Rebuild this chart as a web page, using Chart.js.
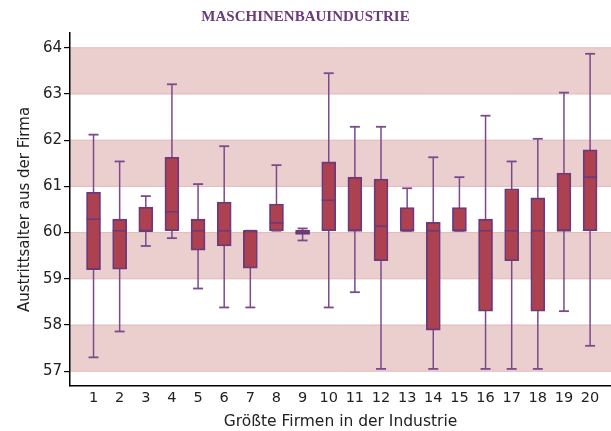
<!DOCTYPE html>
<html>
<head>
<meta charset="utf-8">
<script src="https://cdn.jsdelivr.net/npm/chart.js@4.4.1/dist/chart.umd.min.js"></script>
<style>
  html, body { margin: 0; padding: 0; background: #fff; }
  #wrap { width: 611px; height: 431px; }
</style>
</head>
<body>
<div id="wrap"><canvas id="box_chart"></canvas></div>
<script>
// firms 1..20, values (years)
const firms = [1, 2, 3, 4, 5, 6, 7, 8, 9, 10, 11, 12, 13, 14, 15, 16, 17, 18, 19, 20];
const whiskerLow  = [57.30, 57.86, 59.71, 59.88, 58.79, 58.38, 58.38, 60.04, 59.83, 58.38, 58.71, 57.05, 60.04, 57.05, 60.04, 57.05, 57.05, 57.05, 58.30, 57.55];
const q1          = [59.20, 59.21, 60.03, 60.04, 59.62, 59.71, 59.23, 60.04, 59.96, 60.04, 60.04, 59.39, 60.04, 57.89, 60.04, 58.30, 59.39, 58.30, 60.04, 60.04];
const median      = [60.29, 60.04, 60.03, 60.45, 60.04, 60.04, 60.04, 60.21, 60.00, 60.70, 60.04, 60.14, 60.04, 60.04, 60.04, 60.04, 60.04, 60.04, 60.04, 61.20];
const q3          = [60.87, 60.29, 60.55, 61.63, 60.29, 60.66, 60.04, 60.62, 60.05, 61.53, 61.20, 61.16, 60.54, 60.22, 60.54, 60.29, 60.95, 60.75, 61.29, 61.79];
const whiskerHigh = [62.12, 61.54, 60.79, 63.21, 61.05, 61.87, 60.04, 61.46, 60.09, 63.45, 62.29, 62.29, 60.96, 61.63, 61.20, 62.53, 61.54, 62.03, 63.03, 63.87];
const yTicks = [57, 58, 59, 60, 61, 62, 63, 64];
const bands = [[57, 58], [59, 60], [61, 62], [63, 64]];

const purple = "#6a3a7c";
const whiskerCol = "#7b4a8c";

// pink stripes behind everything
const bandPlugin = {
    id: "bands",
    beforeDraw(chart) {
        const {ctx, chartArea, scales} = chart;
        ctx.save();
        bands.forEach(b => {
            const yTop = scales.y.getPixelForValue(b[1]);
            const yBot = scales.y.getPixelForValue(b[0]);
            ctx.fillStyle = "#ebcfcf";
            ctx.fillRect(chartArea.left, yTop, chartArea.right - chartArea.left, yBot - yTop);
            ctx.strokeStyle = "#e2b8b8";
            ctx.lineWidth = 1;
            ctx.beginPath();
            ctx.moveTo(chartArea.left, yTop); ctx.lineTo(chartArea.right, yTop);
            ctx.moveTo(chartArea.left, yBot); ctx.lineTo(chartArea.right, yBot);
            ctx.stroke();
        });
        ctx.restore();
    }
};

// whiskers under the boxes, caps + medians on top
const whiskerPlugin = {
    id: "whiskers",
    beforeDatasetsDraw(chart) {
        const {ctx, scales} = chart;
        ctx.save();
        ctx.strokeStyle = whiskerCol;
        ctx.lineWidth = 1.5;
        firms.forEach((f, i) => {
            const x = scales.x.getPixelForValue(f);
            ctx.beginPath();
            ctx.moveTo(x, scales.y.getPixelForValue(whiskerLow[i]));
            ctx.lineTo(x, scales.y.getPixelForValue(whiskerHigh[i]));
            ctx.stroke();
        });
        ctx.restore();
    },
    afterDatasetsDraw(chart) {
        const {ctx, scales} = chart;
        const meta = chart.getDatasetMeta(0);
        ctx.save();
        firms.forEach((f, i) => {
            const x = scales.x.getPixelForValue(f);
            ctx.strokeStyle = whiskerCol;
            ctx.lineWidth = 1.8;
            [whiskerLow[i], whiskerHigh[i]].forEach(v => {
                const y = scales.y.getPixelForValue(v);
                ctx.beginPath();
                ctx.moveTo(x - 5, y); ctx.lineTo(x + 5, y);
                ctx.stroke();
            });
            const bar = meta.data[i];
            const hw = bar.width / 2;
            const ym = scales.y.getPixelForValue(median[i]);
            ctx.strokeStyle = purple;
            ctx.lineWidth = 1.6;
            ctx.beginPath();
            ctx.moveTo(x - hw, ym); ctx.lineTo(x + hw, ym);
            ctx.stroke();
        });
        ctx.restore();
    }
};

let boxData = firms.map((f, i) => ({x: f, y: [q1[i], q3[i]]}));

let chart1 = new Chart(document.getElementById("box_chart"), {
    type: "bar",
    data: {
        datasets: [{
            label: "Austrittsalter",
            data: boxData,
            backgroundColor: "#ad4150",
            borderColor: purple,
            borderWidth: 1.8,
            borderSkipped: false,
            barThickness: 14
        }]
    },
    options: {
        responsive: true,
        maintainAspectRatio: false,
        animation: false,
        layout: { padding: 0 },
        plugins: {
            legend: { display: false },
            tooltip: { enabled: false },
            title: {
                display: true,
                text: "MASCHINENBAUINDUSTRIE",
                color: "#6b3a7a",
                font: { family: "Liberation Serif", size: 15, weight: "bold" },
                padding: { top: 8, bottom: 7 }
            }
        },
        scales: {
            x: {
                type: "linear",
                offset: false,
                min: 0.1,
                max: 20.8,
                afterBuildTicks: (s) => { s.ticks = firms.map(v => ({value: v})); },
                ticks: {
                    color: "#222",
                    font: { family: "DejaVu Sans", size: 14.5 },
                    padding: 4,
                    maxRotation: 0,
                    autoSkip: false
                },
                grid: { display: false, drawTicks: false, tickLength: 0, offset: false },
                border: { display: true, color: "#000", width: 1.5 },
                title: {
                    display: true,
                    text: "Größte Firmen in der Industrie",
                    color: "#222",
                    font: { family: "DejaVu Sans", size: 15.5 },
                    padding: { top: 0, bottom: 0 }
                },
                afterFit: (s) => { s.height = 45; }
            },
            y: {
                min: 56.68,
                max: 64.32,
                afterBuildTicks: (s) => { s.ticks = yTicks.map(v => ({value: v})); },
                ticks: {
                    color: "#222",
                    font: { family: "DejaVu Sans", size: 15 },
                    padding: 2
                },
                grid: {
                    display: true,
                    drawOnChartArea: false,
                    drawTicks: true,
                    tickLength: 6,
                    color: "#000",
                    lineWidth: 1.2
                },
                border: { display: true, color: "#000", width: 1.5 },
                title: {
                    display: true,
                    text: "Austrittsalter aus der Firma",
                    color: "#222",
                    font: { family: "DejaVu Sans", size: 15 },
                    padding: { top: 16, bottom: 4 }
                },
                afterFit: (s) => { s.width = 70; }
            }
        }
    },
    plugins: [bandPlugin, whiskerPlugin]
});
</script>
</body>
</html>
